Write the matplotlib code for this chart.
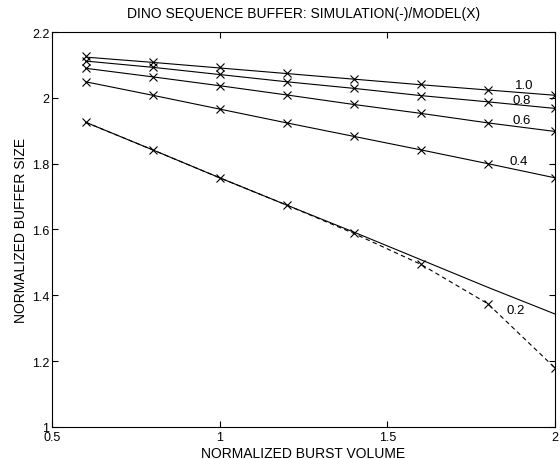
import numpy as np
import matplotlib.pyplot as plt

plt.rcParams["font.family"] = ["Liberation Sans", "DejaVu Sans"]

# Volumen de rafaga normalizado
volumen = [0.6, 0.8, 1.0, 1.2, 1.4, 1.6, 1.8, 2.0]

# Simulacion (linea continua)
sim_10 = [2.124, 2.108, 2.091, 2.074, 2.057, 2.040, 2.024, 2.008]
sim_08 = [2.112, 2.093, 2.071, 2.049, 2.029, 2.007, 1.988, 1.968]
sim_06 = [2.090, 2.064, 2.037, 2.009, 1.980, 1.953, 1.924, 1.898]
sim_04 = [2.049, 2.008, 1.966, 1.924, 1.883, 1.842, 1.800, 1.757]
sim_02 = [1.926, 1.842, 1.757, 1.674, 1.592, 1.508, 1.424, 1.343]

# Modelo (X)
mod_10 = [2.126, 2.110, 2.093, 2.075, 2.058, 2.042, 2.025, 2.009]
mod_08 = [2.113, 2.095, 2.072, 2.049, 2.030, 2.007, 1.988, 1.968]
mod_06 = [2.090, 2.064, 2.037, 2.009, 1.980, 1.953, 1.924, 1.898]
mod_04 = [2.049, 2.008, 1.966, 1.924, 1.883, 1.842, 1.800, 1.757]
mod_02 = [1.926, 1.842, 1.757, 1.674, 1.588, 1.494, 1.374, 1.179]

etiquetas = ["1.0", "0.8", "0.6", "0.4", "0.2"]
pos_etiquetas = [(1.908, 2.039), (1.902, 1.994), (1.901, 1.934),
                 (1.893, 1.809), (1.884, 1.356)]

fig = plt.figure(figsize=(5.6, 4.6), dpi=100)
ax = fig.add_axes([0.093, 0.07, 0.898, 0.858])

for sim in [sim_10, sim_08, sim_06, sim_04, sim_02]:
    ax.plot(volumen, sim, "-", color="black", lw=0.8)

for mod in [mod_10, mod_08, mod_06, mod_04]:
    ax.plot(volumen, mod, ls="none", color="black", marker="x", ms=6, mew=0.8)

# el modelo 0.2 se separa de la simulacion
ax.plot(volumen, mod_02, "--", color="black", lw=0.8, dashes=(4, 3),
        marker="x", ms=6, mew=0.8)

for txt, (x, y) in zip(etiquetas, pos_etiquetas):
    ax.text(x, y, txt, fontsize=9.5, ha="center", va="center")

ax.set_xlim(0.5, 2)
ax.set_ylim(1, 2.2)
ax.set_xticks([0.5, 1, 1.5, 2])
ax.set_xticklabels(["0.5", "1", "1.5", "2"])
ax.set_yticks(np.arange(1, 2.21, 0.2))
ax.set_yticklabels(["1", "1.2", "1.4", "1.6", "1.8", "2", "2.2"])
ax.tick_params(direction="in", top=True, right=True, length=4,
               width=0.8, labelsize=9, pad=2)
ax.tick_params(axis="x", pad=3)
for s in ax.spines.values():
    s.set_linewidth(0.8)

ax.set_title("DINO SEQUENCE BUFFER: SIMULATION(-)/MODEL(X)", fontsize=10, pad=11)
ax.set_xlabel("NORMALIZED BURST VOLUME", fontsize=10, labelpad=2)
ax.set_ylabel("NORMALIZED BUFFER SIZE", fontsize=10, labelpad=3)

plt.savefig("out.png", dpi=100)
